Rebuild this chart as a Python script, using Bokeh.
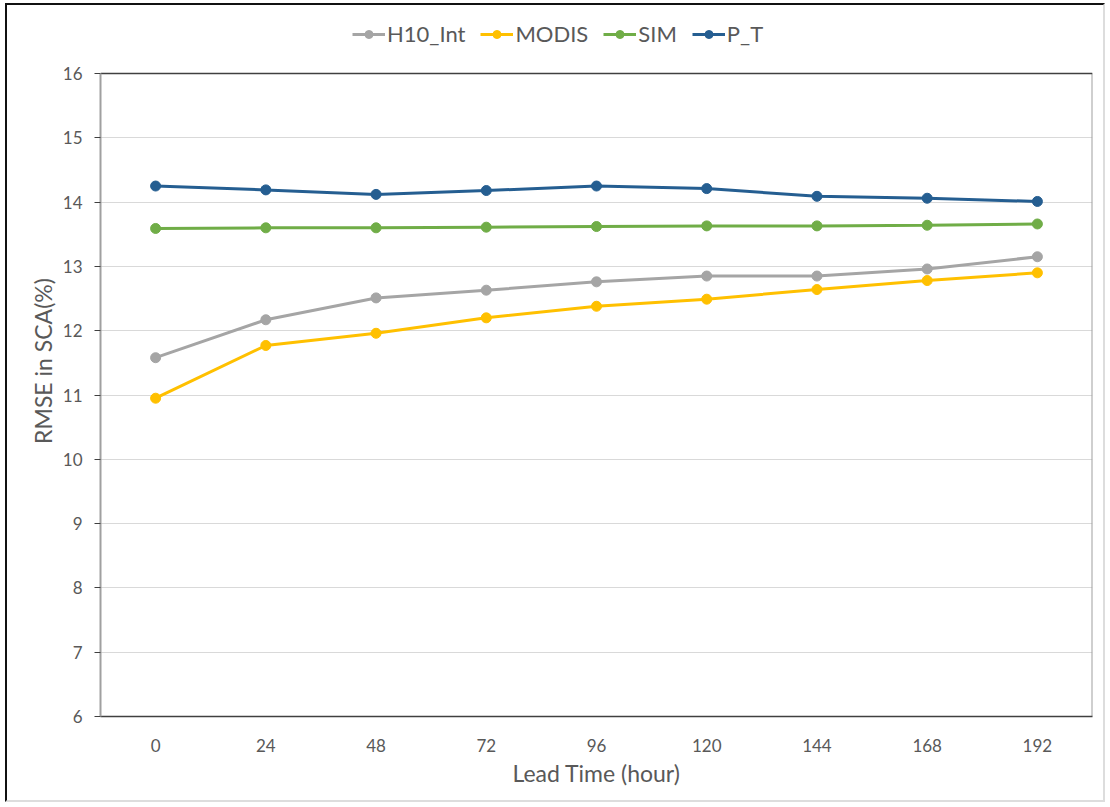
from bokeh.plotting import figure
from bokeh.models import (Range1d, FactorRange, FixedTicker, Legend, LegendItem)
from bokeh.embed import file_html
from bokeh.resources import INLINE

# Lead times (hours) and RMSE of snow covered area (%) per forcing/assimilation setup
lead_times = ["0", "24", "48", "72", "96", "120", "144", "168", "192"]
h10_int = [11.58, 12.17, 12.51, 12.63, 12.76, 12.85, 12.85, 12.96, 13.15]
modis = [10.95, 11.77, 11.96, 12.20, 12.38, 12.49, 12.64, 12.78, 12.90]
sim = [13.59, 13.60, 13.60, 13.61, 13.62, 13.63, 13.63, 13.64, 13.66]
p_t = [14.25, 14.19, 14.12, 14.18, 14.25, 14.21, 14.09, 14.06, 14.01]

series_names = ["H10_Int", "MODIS", "SIM", "P_T"]
series_values = [h10_int, modis, sim, p_t]
series_colors = ["#A5A5A5", "#FFC000", "#70AD47", "#255E91"]

y_ticks = [6, 7, 8, 9, 10, 11, 12, 13, 14, 15, 16]
Y_MIN, Y_MAX = 6, 16

FONT = "Lato"
TEXT = "#595959"

# The frame reaches to the top of the canvas so the legend can sit above the
# 6-16 axis area; the extra headroom above 16 is left blank.
FIG_W, FIG_H = 1100, 799
BORDER_BOTTOM = 88
AXIS_PX = 643                      # pixel height of the 6..16 span
frame_h = FIG_H - BORDER_BOTTOM
y_top = Y_MIN + (Y_MAX - Y_MIN) * frame_h / AXIS_PX

p = figure(
    width=FIG_W, height=FIG_H,
    x_range=FactorRange(*lead_times, range_padding=0),
    y_range=Range1d(Y_MIN, y_top),
    output_backend="svg", toolbar_location=None,
    min_border_left=93, min_border_right=15,
    min_border_top=0, min_border_bottom=BORDER_BOTTOM,
    background_fill_color="white", border_fill_color="white",
)
p.styles = {
    "margin-left": "5px", "margin-top": "3px",
    "border-left": "2px solid #111111", "border-top": "2px solid #111111",
    "border-right": "2px solid #DDDDDD", "border-bottom": "2px solid #DDDDDD",
}
p.outline_line_color = None

# grid
p.xgrid.grid_line_color = None
p.ygrid.grid_line_color = "#D9D9D9"
p.ygrid.grid_line_width = 1

# y axis limited to 6..16
p.yaxis.ticker = FixedTicker(ticks=y_ticks)
p.yaxis.bounds = (Y_MIN, Y_MAX)
p.yaxis.axis_label = "RMSE in SCA(%)"
p.yaxis.axis_line_color = "#A0A0A0"
p.yaxis.axis_line_width = 2
p.yaxis.major_tick_line_color = "#404040"
p.yaxis.major_tick_out = 6
p.yaxis.major_tick_in = 0
p.yaxis.minor_tick_line_color = None
p.yaxis.major_label_standoff = 12

# x axis
p.xaxis.axis_label = "Lead Time (hour)"
p.xaxis.axis_line_color = "#404040"
p.xaxis.axis_line_width = 1.5
p.xaxis.major_tick_line_color = None
p.xaxis.minor_tick_line_color = None
p.xaxis.major_label_standoff = 16

for ax in (p.xaxis, p.yaxis):
    ax.major_label_text_font = FONT
    ax.major_label_text_font_size = "17px"
    ax.major_label_text_color = TEXT
    ax.axis_label_text_font = FONT
    ax.axis_label_text_font_size = "23px"
    ax.axis_label_text_font_style = "normal"
    ax.axis_label_text_color = TEXT
p.xaxis.axis_label_standoff = 4
p.yaxis.axis_label_standoff = 3
p.yaxis.axis_label_text_align = "center"

# plot-area box: grey right edge, dark top edge
n = len(lead_times)
p.segment(x0=[n], y0=[Y_MIN], x1=[n], y1=[Y_MAX], line_color="#A0A0A0", line_width=2)
p.segment(x0=[0], y0=[Y_MAX], x1=[n], y1=[Y_MAX], line_color="#404040", line_width=1.5)

items = []
for name, vals, col in zip(series_names, series_values, series_colors):
    ln = p.line(lead_times, vals, line_color=col, line_width=3)
    sc = p.scatter(lead_times, vals, size=10, fill_color=col, line_color=col)
    items.append(LegendItem(label=name, renderers=[ln, sc]))

legend = Legend(
    items=items, orientation="horizontal",
    location=(247, frame_h - 47),
    label_text_font=FONT, label_text_font_size="22px", label_text_color=TEXT,
    glyph_width=33, glyph_height=20, label_standoff=2, spacing=15,
    border_line_alpha=0, background_fill_alpha=0,
    padding=5, margin=0,
)
p.add_layout(legend, "center")

open("out.html", "w").write(file_html(p, INLINE))
